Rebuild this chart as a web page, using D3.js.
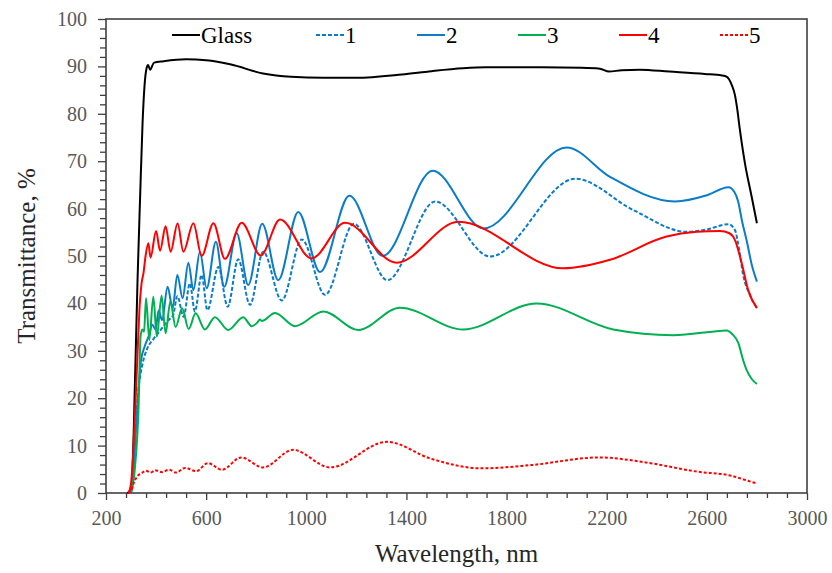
<!DOCTYPE html>
<html>
<head>
<meta charset="utf-8">
<script src="https://cdn.jsdelivr.net/npm/d3@7"></script>
<style>
  body { margin: 0; background: #fff; }
  svg { display: block; }
  text { font-family: "Liberation Serif", "Times New Roman", serif; }
</style>
</head>
<body>
<script>
// Wavelength (nm) / transmittance (%) pairs
const glassNm = [285, 295, 303, 316, 326, 336, 346, 354, 362, 368, 376, 392, 430, 520, 600, 700, 827, 939, 1067, 1200, 1382, 1500, 1626, 1717, 1900, 2100, 2173, 2209, 2260, 2332, 2450, 2592, 2660, 2680, 2700, 2712, 2720, 2732, 2752, 2779, 2800];
const glassT  = [0, 0.5, 2, 24, 45, 62, 78, 86, 89.6, 90.3, 89.3, 90.8, 91.1, 91.5, 91.3, 90.4, 88.5, 87.8, 87.6, 87.6, 88.3, 89.0, 89.6, 89.8, 89.8, 89.7, 89.5, 88.9, 89.2, 89.3, 88.9, 88.4, 88.1, 87.8, 86, 84, 81.5, 76.6, 69.6, 62.5, 56.9];

const s1Nm = [300, 315, 330, 345, 365, 390, 420, 450, 468, 485, 510, 535, 555, 582, 605, 649, 686, 728, 775, 828, 902, 982, 1075, 1190, 1324, 1515, 1734, 2075, 2306, 2519, 2600, 2686, 2712, 2730, 2745, 2770, 2800];
const s1T  = [0, 10, 22, 27, 30.5, 32.5, 34.5, 36.5, 37.5, 41.5, 37.2, 44.2, 38.3, 46.0, 38.6, 47.7, 39.3, 49.3, 39.7, 50.9, 40.6, 53.5, 41.8, 56.8, 44.9, 61.5, 49.9, 66.3, 59.7, 55.1, 55.6, 56.7, 55.5, 51, 46, 42, 39];

const s2Nm = [300, 310, 320, 330, 340, 355, 370, 385, 398, 410, 424, 446, 466, 485, 506, 529, 549, 575, 602, 639, 672, 722, 768, 824, 888, 968, 1055, 1172, 1305, 1505, 1707, 2040, 2213, 2473, 2600, 2686, 2710, 2725, 2740, 2760, 2780, 2800];
const s2T  = [0, 5, 14, 22, 28, 31, 33, 35.5, 34.5, 38.5, 36.5, 43.5, 39.0, 46.0, 41.1, 48.6, 42.8, 50.9, 43.2, 53.0, 43.5, 54.8, 43.9, 56.8, 44.9, 59.3, 46.6, 62.7, 50.0, 68.0, 55.8, 72.9, 66.7, 61.5, 62.8, 64.5, 63.5, 61.5, 57.5, 53, 48, 44.6];

const s3Nm = [300, 315, 330, 338, 345, 352, 360, 373, 389, 403, 422, 438, 457, 478, 504, 530, 558, 595, 635, 688, 748, 782, 805, 815, 822, 875, 955, 1068, 1208, 1374, 1627, 1920, 2226, 2466, 2652, 2680, 2700, 2726, 2745, 2759, 2780, 2800];
const s3T  = [0, 5, 18, 33, 34.5, 34, 41.1, 32.3, 41.4, 33.0, 41.6, 33.7, 40.4, 35.0, 39.0, 34.6, 37.9, 34.5, 37.1, 34.4, 37.1, 35.2, 36.0, 36.6, 36.3, 38.0, 35.2, 38.3, 34.4, 39.1, 34.5, 40.0, 34.5, 33.3, 34.2, 34.3, 33.6, 31.6, 28, 25.9, 24, 23];

const s4Nm = [290, 300, 310, 320, 328, 335, 342, 350, 358, 369, 378, 400, 416, 438, 458, 486, 509, 549, 582, 629, 675, 742, 818, 895, 1021, 1155, 1361, 1607, 2027, 2213, 2439, 2559, 2652, 2690, 2712, 2739, 2765, 2800];
const s4T  = [0, 2, 10, 22, 32, 40, 44.2, 46.5, 50, 52.7, 49.7, 55.3, 51.1, 56.3, 50.9, 56.9, 50.9, 56.9, 50.0, 56.9, 49.4, 57.0, 50.1, 57.7, 49.5, 57.0, 48.6, 57.2, 47.4, 49.2, 54.1, 55.1, 55.3, 54.8, 53.4, 48.5, 42.8, 39.0];

const s5Nm = [290, 300, 310, 325, 345, 360, 378, 396, 424, 452, 480, 516, 560, 607, 663, 740, 827, 947, 1095, 1322, 1500, 1700, 1900, 2170, 2350, 2562, 2700, 2750, 2800];
const s5T  = [0, 0.3, 2, 3.5, 4.3, 4.7, 4.3, 4.8, 4.4, 4.9, 4.3, 5.3, 4.6, 6.3, 4.9, 7.5, 5.4, 9.1, 5.4, 10.8, 7.2, 5.2, 5.9, 7.5, 6.5, 4.5, 3.6, 2.8, 2.0];

const xMajor = [200, 600, 1000, 1400, 1800, 2200, 2600, 3000];
const yMajor = [0, 10, 20, 30, 40, 50, 60, 70, 80, 90, 100];

const series = [
  {name: "Glass", nm: glassNm, t: glassT, color: "#000000", dash: null},
  {name: "1", nm: s1Nm, t: s1T, color: "#0a7cc8", dash: "4,2"},
  {name: "2", nm: s2Nm, t: s2T, color: "#0a7cc8", dash: null},
  {name: "3", nm: s3Nm, t: s3T, color: "#00b050", dash: null},
  {name: "4", nm: s4Nm, t: s4T, color: "#ff0000", dash: null},
  {name: "5", nm: s5Nm, t: s5T, color: "#ff0000", dash: "3,2"}
];

const W = 832, H = 573;
const plot = {left: 106, right: 807, top: 19, bottom: 493};

const svg = d3.select("body").append("svg")
  .attr("width", W)
  .attr("height", H);

const x = d3.scaleLinear().domain([200, 3000]).range([plot.left, plot.right]);
const y = d3.scaleLinear().domain([0, 100]).range([plot.bottom, plot.top]);

// minor ticks (Excel style: major / 5)
const xMinor = d3.range(200, 3001, 80).filter(v => !xMajor.includes(v));
const yMinor = d3.range(0, 101, 2).filter(v => !yMajor.includes(v));

svg.append("g")
  .attr("transform", `translate(0,${plot.bottom})`)
  .call(d3.axisBottom(x).tickValues(xMinor).tickSize(5).tickFormat(""))
  .call(g => g.select(".domain").remove())
  .selectAll("line").attr("stroke", "#404040").attr("stroke-width", 1.3);

svg.append("g")
  .attr("transform", `translate(${plot.left},0)`)
  .call(d3.axisLeft(y).tickValues(yMinor).tickSize(6).tickFormat(""))
  .call(g => g.select(".domain").remove())
  .selectAll("line").attr("stroke", "#404040").attr("stroke-width", 1.3);

const xAxis = svg.append("g")
  .attr("transform", `translate(0,${plot.bottom})`)
  .call(d3.axisBottom(x).tickValues(xMajor).tickFormat(d3.format("d"))
    .tickSize(7).tickPadding(11).tickSizeOuter(0));
xAxis.select(".domain").remove();
xAxis.selectAll("line").attr("stroke", "#404040").attr("stroke-width", 1.3);
xAxis.selectAll("text").attr("font-size", 20).attr("fill", "#595959")
  .style("font-family", "Liberation Serif, serif");

const yAxis = svg.append("g")
  .attr("transform", `translate(${plot.left},0)`)
  .call(d3.axisLeft(y).tickValues(yMajor).tickFormat(d3.format("d"))
    .tickSize(8).tickPadding(11).tickSizeOuter(0));
yAxis.select(".domain").remove();
yAxis.selectAll("line").attr("stroke", "#404040").attr("stroke-width", 1.3);
yAxis.selectAll("text").attr("font-size", 20).attr("fill", "#595959")
  .style("font-family", "Liberation Serif, serif");

// plot frame
svg.append("rect")
  .attr("x", plot.left)
  .attr("y", plot.top)
  .attr("width", plot.right - plot.left)
  .attr("height", plot.bottom - plot.top)
  .attr("fill", "none")
  .attr("stroke", "#404040")
  .attr("stroke-width", 1.6);

const line = d3.line()
  .x(d => x(d[0]))
  .y(d => y(d[1]))
  .curve(d3.curveMonotoneX);

series.forEach(s => {
  const pts = s.nm.map((v, i) => [v, s.t[i]]);
  svg.append("path")
    .datum(pts)
    .attr("fill", "none")
    .attr("stroke", s.color)
    .attr("stroke-width", 2)
    .attr("stroke-dasharray", s.dash)
    .attr("stroke-linejoin", "round")
    .attr("d", line);
});

// legend
const legend = svg.append("g");
series.forEach((s, i) => {
  const x0 = i === 0 ? 172 : 316 + (i - 1) * 101;
  legend.append("line")
    .attr("x1", x0).attr("x2", x0 + 28)
    .attr("y1", 35).attr("y2", 35)
    .attr("stroke", s.color)
    .attr("stroke-width", 2)
    .attr("stroke-dasharray", s.dash);
  legend.append("text")
    .attr("x", x0 + 29)
    .attr("y", 43)
    .attr("font-size", 23)
    .attr("fill", "#000")
    .text(s.name);
});

// axis titles
svg.append("text")
  .attr("x", (plot.left + plot.right) / 2)
  .attr("y", 562)
  .attr("text-anchor", "middle")
  .attr("font-size", 25)
  .attr("fill", "#262626")
  .text("Wavelength, nm");

svg.append("text")
  .attr("transform", `translate(35,${(plot.top + plot.bottom) / 2}) rotate(-90)`)
  .attr("text-anchor", "middle")
  .attr("font-size", 25)
  .attr("fill", "#262626")
  .text("Transmittance, %");
</script>
</body>
</html>
